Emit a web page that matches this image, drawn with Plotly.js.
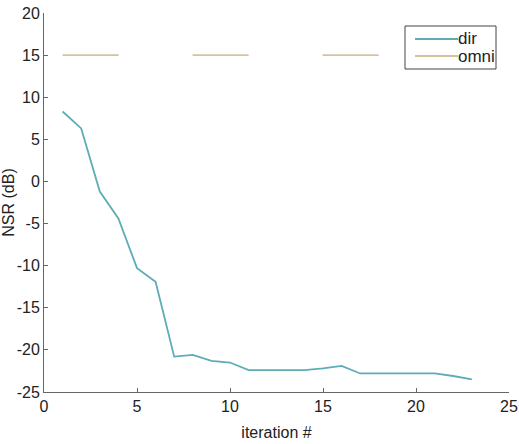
<!DOCTYPE html>
<html>
<head>
<meta charset="utf-8">
<script src="https://cdn.plot.ly/plotly-3.0.1.min.js"></script>
<style>html,body{margin:0;padding:0;background:#fff;}#chart{width:519px;height:444px;}</style>
</head>
<body>
<div id="chart"></div>
<script>
const iterations = [1,2,3,4,5,6,7,8,9,10,11,12,13,14,15,16,17,18,19,20,21,22,23];
const dirNSR = [8.3,6.3,-1.2,-4.4,-10.3,-11.9,-20.8,-20.6,-21.3,-21.5,-22.4,-22.4,-22.4,-22.4,-22.2,-21.9,-22.8,-22.8,-22.8,-22.8,-22.8,-23.1,-23.5];
const omniNSR = [15,15,15,15,15,15,15,15,15,15,15,15,15,15,15,15,15,15,15,15,15,15,15];
const seriesNames = ['dir', 'omni'];
const seriesColors = ['#5eacb6', '#d6c29f'];
const xTicks = [0,5,10,15,20,25];
const yTicks = [-25,-20,-15,-10,-5,0,5,10,15,20];

const font = {family: '"Liberation Sans", Arial, sans-serif', size: 16, color: '#222'};

const traces = [
  {x: iterations, y: dirNSR, name: seriesNames[0], type: 'scatter', mode: 'lines',
   line: {color: seriesColors[0], width: 1.8}, showlegend: false},
  {x: iterations, y: omniNSR, name: seriesNames[1], type: 'scatter', mode: 'lines',
   line: {color: seriesColors[1], width: 1.8, dash: '56px,74px'}, showlegend: false}
];

// legend box drawn in paper coordinates (plot area: 465 x 379 px)
const PW = 465, PH = 379;
const px = v => v / PW, py = v => 1 - v / PH;
const legBox = {x0: px(361), x1: px(452), y0: py(13), y1: py(56)};
const legRows = [py(26), py(43)];
const shapes = [
  {type: 'rect', xref: 'paper', yref: 'paper', x0: legBox.x0, x1: legBox.x1, y0: legBox.y0, y1: legBox.y1,
   line: {color: '#444', width: 1}, fillcolor: '#fff', layer: 'above'}
];
const annotations = [];
seriesNames.forEach((n, i) => {
  shapes.push({type: 'line', xref: 'paper', yref: 'paper', x0: px(371), x1: px(414), y0: legRows[i], y1: legRows[i],
    line: {color: seriesColors[i], width: 1.8}, layer: 'above'});
  annotations.push({xref: 'paper', yref: 'paper', x: px(413), y: legRows[i], xanchor: 'left', yanchor: 'middle',
    text: n, showarrow: false, font: Object.assign({}, font, {size: 17}), borderpad: 0});
});

const axisCommon = {
  showgrid: false, zeroline: false, showline: true, linecolor: '#666', linewidth: 1,
  ticks: 'inside', ticklen: 4, tickcolor: '#666', tickfont: font
};

const layout = {
  width: 519, height: 444,
  margin: {l: 44, r: 10, t: 13, b: 52},
  paper_bgcolor: '#fff', plot_bgcolor: '#fff',
  font: font,
  showlegend: false,
  shapes: shapes,
  annotations: annotations,
  xaxis: Object.assign({}, axisCommon, {
    range: [0, 25], tickvals: xTicks, ticktext: xTicks.map(String),
    title: {text: 'iteration #', font: font, standoff: 12}
  }),
  yaxis: Object.assign({}, axisCommon, {
    range: [-25, 20], tickvals: yTicks, ticktext: yTicks.map(String),
    title: {text: 'NSR (dB)', font: font, standoff: 7}
  })
};

Plotly.newPlot('chart', traces, layout, {displayModeBar: false, staticPlot: true});
</script>
</body>
</html>
